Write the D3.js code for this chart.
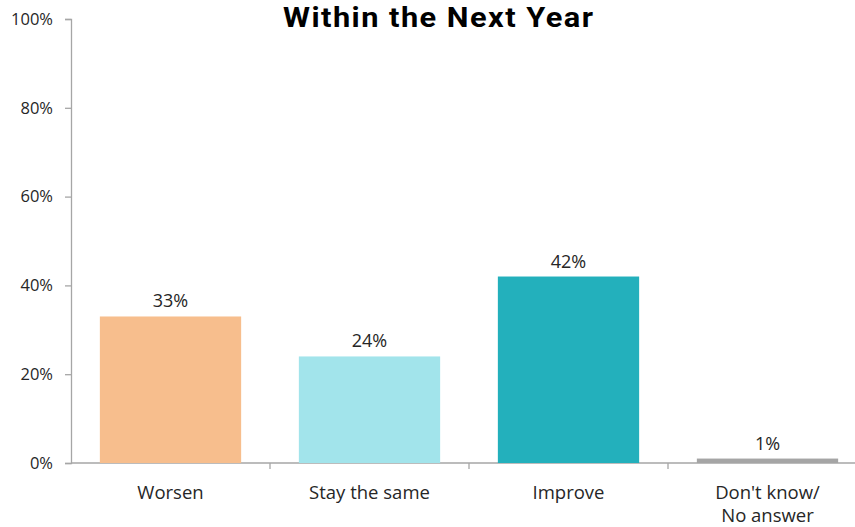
<!DOCTYPE html>
<html>
<head>
<meta charset="utf-8">
<script src="https://cdn.jsdelivr.net/npm/d3@7/dist/d3.min.js"></script>
<style>
  html, body { margin: 0; padding: 0; background: #fff; }
  svg { display: block; }
  text { font-family: "Open Sans", sans-serif; fill: #262626; }
</style>
</head>
<body>
<svg id="chart" width="855" height="527"></svg>
<script>
// Survey answers and their shares (percent)
const categories = ["Worsen", "Stay the same", "Improve", "Don't know/\nNo answer"];
const values = [33, 24, 42, 1];
const colors = ["#F7BE8D", "#A2E4EB", "#23B0BC", "#A5A5A5"];
const yTicks = [0, 20, 40, 60, 80, 100];
const title = "Within the Next Year";

const svg = d3.select("#chart");
const margin = { left: 71, right: -12, top: 19, bottom: 64 };
const W = 855, H = 527;

const x = d3.scaleBand()
  .domain(categories)
  .range([margin.left, W - margin.right])
  .paddingInner(0.29)
  .paddingOuter(0.145);

const y = d3.scaleLinear()
  .domain([0, 100])
  .range([H - margin.bottom, margin.top]);

// Title: compact-ascent face, widened slightly so it sits flush with the top edge
const titleScale = 1.08;
svg.append("g")
  .attr("transform", `translate(438,26.5) scale(${titleScale},1)`)
  .append("text")
  .attr("x", 0)
  .attr("y", 0)
  .attr("text-anchor", "middle")
  .attr("textLength", 310 / titleScale)
  .attr("lengthAdjust", "spacing")
  .style("font-family", "Roboto, 'Liberation Sans', sans-serif")
  .style("font-size", "28.5px")
  .style("font-weight", "bold")
  .style("fill", "#000")
  .text(title);

// Y axis
const yAxis = svg.append("g")
  .attr("transform", `translate(${margin.left},0)`)
  .call(d3.axisLeft(y).tickValues(yTicks).tickSize(6).tickPadding(12).tickFormat(d => d + "%"));
yAxis.select(".domain").attr("stroke", "#a6a6a6").attr("stroke-width", 1.3);
yAxis.selectAll(".tick line").attr("stroke", "#a6a6a6").attr("stroke-width", 1.3);
yAxis.selectAll(".tick text").style("font-size", "16.5px").style("fill", "#262626")
  .style("font-family", "'Open Sans', sans-serif");

// X axis baseline and category separators
const step = x.step();
const boundaries = categories.map(c => x(c) - (step - x.bandwidth()) / 2).slice(1);
svg.append("line")
  .attr("x1", margin.left).attr("x2", W)
  .attr("y1", y(0)).attr("y2", y(0))
  .attr("stroke", "#a6a6a6").attr("stroke-width", 1.3);
svg.selectAll(".sep").data(boundaries).enter().append("line")
  .attr("x1", d => d).attr("x2", d => d)
  .attr("y1", y(0)).attr("y2", y(0) + 6)
  .attr("stroke", "#a6a6a6").attr("stroke-width", 1.3);

// Bars
svg.selectAll(".bar").data(values).enter().append("rect")
  .attr("x", (d, i) => x(categories[i]))
  .attr("y", d => y(d))
  .attr("width", x.bandwidth())
  .attr("height", d => y(0) - y(d))
  .attr("fill", (d, i) => colors[i]);

// Value labels
svg.selectAll(".val").data(values).enter().append("text")
  .attr("x", (d, i) => x(categories[i]) + x.bandwidth() / 2)
  .attr("y", d => y(d) - 9)
  .attr("text-anchor", "middle")
  .style("font-size", "18px")
  .text(d => d + "%");

// Category labels
categories.forEach(c => {
  const t = svg.append("text")
    .attr("x", x(c) + x.bandwidth() / 2)
    .attr("y", 499)
    .attr("text-anchor", "middle")
    .style("font-size", "18.5px");
  c.split("\n").forEach((line, k) => {
    t.append("tspan")
      .attr("x", x(c) + x.bandwidth() / 2)
      .attr("dy", k === 0 ? 0 : 23)
      .text(line);
  });
});
</script>
</body>
</html>
